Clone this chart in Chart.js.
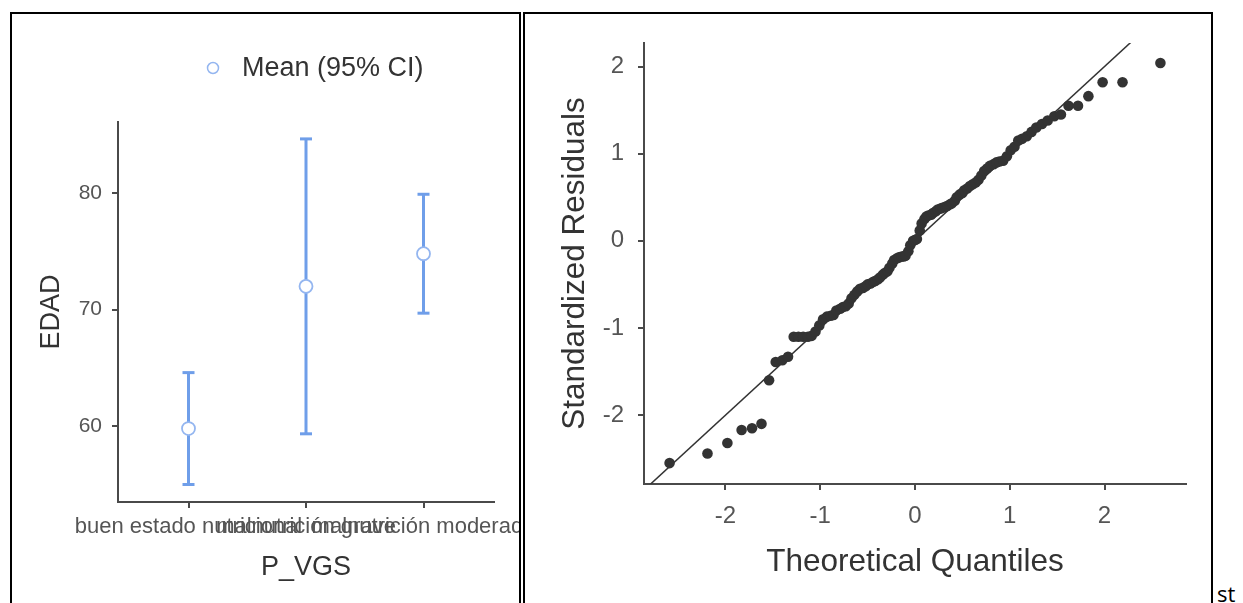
<!DOCTYPE html>
<html lang="es">
<head>
<meta charset="UTF-8">
<title>EDAD por P_VGS y gráfico Q-Q</title>
<script src="https://cdn.jsdelivr.net/npm/chart.js"></script>
<style>
  body { margin: 0; background: #fff; width: 1243px; height: 603px; overflow: hidden; position: relative; }
  .panel { position: absolute; border: 2px solid #000; border-bottom: none; }
  #leftPanel { left: 10px; top: 12px; width: 507px; height: 589px; }
  #rightPanel { left: 523px; top: 12px; width: 686px; height: 589px; }
  canvas { display: block; }
  #tail { position: absolute; left: 1217px; top: 582px; font: 22px "Open Sans", sans-serif; color: #000; line-height: 1; }
</style>
</head>
<body>
<div class="panel" id="leftPanel"><canvas id="meanChart" width="507" height="589"></canvas></div>
<div class="panel" id="rightPanel"><canvas id="qqChart" width="686" height="589"></canvas></div>
<div id="tail">st</div>

<script>
// EDAD by P_VGS (mean with 95% CI)
const categories = ['buen estado nutricional', 'malnutrición grave', 'malnutrición moderada'];
const edadMean = [59.8, 72.0, 74.8];
const edadLower = [55.0, 59.35, 69.7];
const edadUpper = [64.6, 84.65, 79.9];

// Q-Q plot of standardized residuals
const qqTheoretical = [
  -2.59, -2.19, -1.98, -1.83, -1.72, -1.62, -1.54, -1.47, -1.40, -1.34,
  -1.28, -1.23, -1.18, -1.13, -1.09, -1.05, -1.01, -0.97, -0.93, -0.89,
  -0.86, -0.83, -0.79, -0.76, -0.73, -0.70, -0.67, -0.64, -0.61, -0.58,
  -0.55, -0.52, -0.50, -0.47, -0.44, -0.42, -0.39, -0.37, -0.34, -0.32,
  -0.29, -0.27, -0.24, -0.22, -0.19, -0.17, -0.14, -0.12, -0.10, -0.07,
  -0.05, -0.02, 0.00, 0.02, 0.05, 0.07, 0.10, 0.12, 0.14, 0.17,
  0.19, 0.22, 0.24, 0.27, 0.29, 0.32, 0.34, 0.37, 0.39, 0.42,
  0.44, 0.47, 0.50, 0.52, 0.55, 0.58, 0.61, 0.64, 0.67, 0.70,
  0.73, 0.76, 0.79, 0.83, 0.86, 0.89, 0.93, 0.97, 1.01, 1.05,
  1.09, 1.13, 1.18, 1.23, 1.28, 1.34, 1.40, 1.47, 1.54, 1.62,
  1.72, 1.83, 1.98, 2.19, 2.59
];
const qqResiduals = [
  -2.55, -2.44, -2.32, -2.17, -2.15, -2.10, -1.60, -1.39, -1.37, -1.33,
  -1.10, -1.10, -1.10, -1.10, -1.09, -1.04, -0.97, -0.90, -0.87, -0.86,
  -0.85, -0.80, -0.78, -0.76, -0.75, -0.72, -0.66, -0.62, -0.58, -0.55,
  -0.54, -0.52, -0.50, -0.49, -0.47, -0.46, -0.44, -0.42, -0.39, -0.37,
  -0.35, -0.31, -0.26, -0.22, -0.20, -0.19, -0.18, -0.18, -0.17, -0.12,
  -0.05, 0.00, 0.01, 0.02, 0.12, 0.20, 0.25, 0.28, 0.29, 0.30,
  0.32, 0.34, 0.36, 0.37, 0.38, 0.39, 0.40, 0.42, 0.43, 0.46,
  0.50, 0.53, 0.55, 0.58, 0.60, 0.63, 0.65, 0.67, 0.70, 0.75,
  0.80, 0.83, 0.86, 0.88, 0.90, 0.91, 0.92, 0.97, 1.04, 1.08,
  1.15, 1.17, 1.20, 1.25, 1.30, 1.34, 1.38, 1.43, 1.45, 1.55,
  1.55, 1.66, 1.82, 1.82, 2.04
];
const refLine = [-3, 3];

Chart.defaults.font.family = '"Liberation Sans", Arial, sans-serif';
Chart.defaults.animation = false;

const barBlue = '#6f9ee9';
const ringBlue = '#94b6f0';
const axisGrey = '#4a4a4a';

function fixSize(w, h) {
  return function (scale) {
    if (w !== null) scale.width = w;
    if (h !== null) scale.height = h;
    scale.paddingLeft = 0; scale.paddingRight = 0;
    scale.paddingTop = 0; scale.paddingBottom = 0;
  };
}

// legend drawn by hand so it sits where the original one does
const meanLegend = {
  id: 'meanLegend',
  afterDraw(chart) {
    const ctx = chart.ctx;
    ctx.save();
    ctx.beginPath();
    ctx.arc(201, 54, 5.5, 0, Math.PI * 2);
    ctx.fillStyle = '#fff';
    ctx.fill();
    ctx.lineWidth = 1.5;
    ctx.strokeStyle = ringBlue;
    ctx.stroke();
    ctx.font = '27px "Liberation Sans", Arial, sans-serif';
    ctx.fillStyle = '#333';
    ctx.textBaseline = 'middle';
    ctx.fillText('Mean (95% CI)', 230, 55);
    ctx.restore();
  }
};

const ciSets = categories.map((c, i) => ({
  label: c,
  data: [{ x: i, y: edadLower[i] }, { x: i, y: edadUpper[i] }],
  showLine: true,
  borderColor: barBlue,
  borderWidth: 3,
  pointStyle: 'line',
  pointRadius: 6,
  pointBorderWidth: 3,
  pointBorderColor: barBlue,
  order: 2
}));

new Chart(document.getElementById('meanChart'), {
  type: 'scatter',
  data: {
    datasets: [...ciSets, {
      label: 'Mean (95% CI)',
      data: edadMean.map((m, i) => ({ x: i, y: m })),
      pointRadius: 6.5,
      pointBorderWidth: 1.8,
      pointBorderColor: ringBlue,
      pointBackgroundColor: '#fff',
      order: 1
    }]
  },
  options: {
    responsive: false,
    events: [],
    layout: { padding: { left: 0, right: 25, top: 108, bottom: 0 } },
    plugins: { legend: { display: false }, tooltip: { enabled: false } },
    scales: {
      x: {
        type: 'linear', min: -0.6, max: 2.6,
        afterFit: fixSize(null, 101),
        border: { color: axisGrey, width: 2 },
        grid: { drawOnChartArea: false, tickLength: 6, color: axisGrey, lineWidth: 2 },
        ticks: {
          stepSize: 1, includeBounds: false, autoSkip: false, maxRotation: 0, minRotation: 0,
          padding: 6, color: '#555', font: { size: 22 },
          callback: v => categories[v]
        },
        title: { display: true, text: 'P_VGS', color: '#333', font: { size: 27 }, padding: { bottom: 19 } }
      },
      y: {
        min: 53.5, max: 86.1,
        afterFit: fixSize(106, null),
        border: { color: axisGrey, width: 2 },
        grid: { drawOnChartArea: false, tickLength: 6, color: axisGrey, lineWidth: 2 },
        ticks: { stepSize: 10, includeBounds: false, padding: 10, color: '#555', font: { size: 21 } },
        title: { display: true, text: 'EDAD', color: '#333', font: { size: 27 }, padding: { top: 23 } }
      }
    }
  },
  plugins: [meanLegend]
});

new Chart(document.getElementById('qqChart'), {
  type: 'scatter',
  data: {
    datasets: [{
      label: 'Residuals',
      data: qqTheoretical.map((t, i) => ({ x: t, y: qqResiduals[i] })),
      pointRadius: 5.3,
      pointBackgroundColor: '#333',
      pointBorderWidth: 0,
      order: 1
    }, {
      label: 'Reference',
      data: refLine.map(v => ({ x: v, y: v })),
      showLine: true,
      borderColor: '#333',
      borderWidth: 1.5,
      pointRadius: 0,
      order: 2
    }]
  },
  options: {
    responsive: false,
    events: [],
    layout: { padding: { left: 0, right: 25, top: 29, bottom: 0 } },
    plugins: { legend: { display: false }, tooltip: { enabled: false } },
    scales: {
      x: {
        type: 'linear', min: -2.86, max: 2.86,
        afterFit: fixSize(null, 119),
        border: { color: axisGrey, width: 2 },
        grid: { drawOnChartArea: false, tickLength: 6, color: axisGrey, lineWidth: 2 },
        ticks: { stepSize: 1, includeBounds: false, padding: 12, color: '#555', font: { size: 24 } },
        title: { display: true, text: 'Theoretical Quantiles', color: '#333', font: { size: 31.5 }, padding: { bottom: 22 } }
      },
      y: {
        min: -2.79, max: 2.27,
        afterFit: fixSize(119, null),
        border: { color: axisGrey, width: 2 },
        grid: { drawOnChartArea: false, tickLength: 6, color: axisGrey, lineWidth: 2 },
        ticks: { stepSize: 1, includeBounds: false, padding: 14, color: '#555', font: { size: 24 } },
        title: { display: true, text: 'Standardized Residuals', color: '#333', font: { size: 31.5 }, padding: { top: 31 } }
      }
    }
  }
});
</script>
</body>
</html>
